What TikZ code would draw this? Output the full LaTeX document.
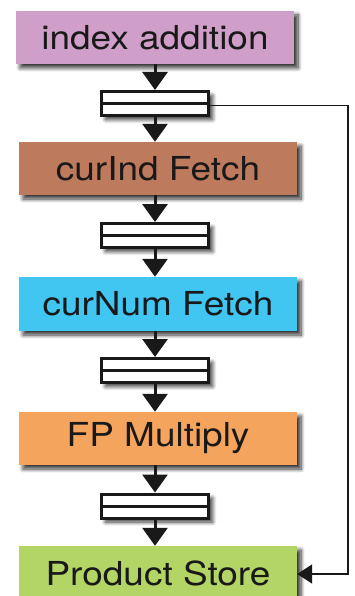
\documentclass[tikz,border=0pt]{standalone}
\usepackage{fontspec}
\setmainfont{TeX Gyre Heros}
\usetikzlibrary{arrows.meta,shadows.blur}
\definecolor{cpink}{HTML}{D09FC9}
\definecolor{cbrown}{HTML}{BD7A5D}
\definecolor{ccyan}{HTML}{41C5F1}
\definecolor{corange}{HTML}{F5A45E}
\definecolor{cgreen}{HTML}{B3D565}
\newcommand{\wtxt}[1]{\scalebox{1.12}[1]{#1}}
\tikzset{
  shad/.style={blur shadow={shadow xshift=4pt, shadow yshift=-4pt, shadow blur radius=4pt, shadow blur steps=8, shadow opacity=80}},
  stage/.style={rectangle, inner sep=0pt, minimum width=278pt, minimum height=53pt,
    font=\fontsize{33}{36}\selectfont, text=black!90, shad},
  reg/.style={rectangle, draw=black!90, line width=3pt, fill=white, inner sep=0pt,
    minimum width=107pt, minimum height=24pt, shad,
    path picture={\draw[line width=3pt, black!90] (path picture bounding box.west) -- (path picture bounding box.east);}},
  flow/.style={line width=3pt, draw=black!90, -{Triangle[width=25pt,length=18pt]}},
  back/.style={line width=1.8pt, draw=black!90, -{Triangle[width=19pt,length=15pt]}}
}
\begin{document}
\begin{tikzpicture}[x=1pt,y=-1pt]
\useasboundingbox (0,0) rectangle (354,596);
\begin{scope}
\clip (0,0) rectangle (354,596);
\node[stage, fill=cpink] (s1) at (155,37.5) {\wtxt{index addition}};
\node[reg] (r1) at (155,103.5) {};
\node[stage, fill=cbrown] (s2) at (158,168.5) {\wtxt{curInd Fetch}};
\node[reg] (r2) at (155,235.5) {};
\node[stage, fill=ccyan, minimum height=54pt] (s3) at (158,304) {\wtxt{curNum Fetch}};
\node[reg] (r3) at (155,370.5) {};
\node[stage, fill=corange] (s4) at (158,438.5) {\wtxt{FP Multiply}};
\node[reg] (r4) at (155,506) {};
\node[stage, fill=cgreen, minimum height=54pt] (s5) at (158,573) {\wtxt{Product Store}};
\draw[flow] (s1.south -| r1) -- (r1.north);
\draw[flow] (r1.south) -- (r1.south |- s2.north);
\draw[flow] (s2.south -| r2) -- (r2.north);
\draw[flow] (r2.south) -- (r2.south |- s3.north);
\draw[flow] (s3.south -| r3) -- (r3.north);
\draw[flow] (r3.south) -- (r3.south |- s4.north);
\draw[flow] (s4.south -| r4) -- (r4.north);
\draw[flow] (r4.south) -- (r4.south |- s5.north);
\coordinate (c1) at (348,115.5);
\coordinate (c2) at (348,574);
\draw[back] ([yshift=-2pt]r1.east) -- ([yshift=-2pt]r1.east -| c1) -- (c2) -- (c2 -| s5.east);
\end{scope}
\end{tikzpicture}
\end{document}
